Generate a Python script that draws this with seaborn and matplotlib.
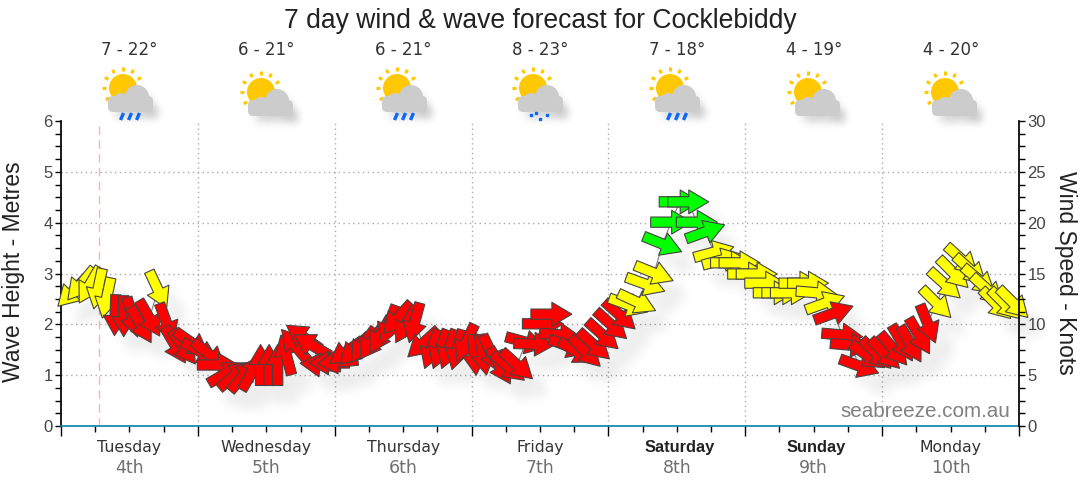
import numpy as np
import pandas as pd
import matplotlib
matplotlib.use("Agg")
import matplotlib.pyplot as plt
import seaborn as sns
from matplotlib.markers import MarkerStyle
from matplotlib.patches import Circle, FancyBboxPatch
from matplotlib.path import Path
from matplotlib.ticker import MultipleLocator
from matplotlib.transforms import Affine2D

# hours since midnight Tuesday
hours = [2.0, 3.5, 5.0, 6.5, 8.0, 9.5, 11.0, 12.5, 14.0, 15.5, 17.0, 18.5, 20.0, 21.5, 23.0, 24.5,
         26.0, 27.5, 29.0, 30.5, 32.0, 33.5, 35.0, 36.5, 38.0, 39.5, 41.0, 42.5, 44.0, 45.5, 47.0, 48.5,
         50.0, 51.5, 53.0, 54.5, 56.0, 57.5, 59.0, 60.5, 62.0, 63.5, 65.0, 66.5, 68.0, 69.5, 71.0, 72.5,
         74.0, 75.5, 77.0, 78.5, 80.0, 81.5, 83.0, 84.5, 86.0, 87.5, 89.0, 90.5, 92.0, 93.5, 95.0, 96.5,
         98.0, 99.5, 101.0, 102.5, 104.0, 105.5, 107.0, 108.5, 110.0, 111.5, 113.0, 114.5, 116.0, 117.5,
         119.0, 120.5, 122.0, 123.5, 125.0, 126.5, 128.0, 129.5, 131.0, 132.5, 134.0, 135.5, 137.0, 138.5,
         140.0, 141.5, 143.0, 144.5, 146.0, 147.5, 149.0, 150.5, 152.0, 153.5, 155.0, 156.5, 158.0, 159.5,
         161.0, 162.5, 164.0, 165.5, 167.0]
wave_m = [2.64, 2.79, 2.77, 2.70, 2.52, 2.18, 2.16, 2.14, 1.99, 2.12, 2.68, 2.03, 1.59, 1.55, 1.63, 1.46,
          1.40, 1.20, 1.04, 1.00, 1.00, 1.06, 1.20, 1.20, 1.20, 1.40, 1.59, 1.75, 1.59, 1.20, 1.24, 1.26,
          1.46, 1.50, 1.59, 1.65, 1.79, 1.99, 2.12, 1.99, 2.03, 1.63, 1.51, 1.51, 1.51, 1.50, 1.63, 1.40,
          1.40, 1.42, 1.18, 1.16, 1.20, 1.65, 1.61, 2.01, 2.20, 1.79, 1.57, 1.46, 1.46, 1.59, 1.79, 1.99,
          2.18, 2.38, 2.44, 2.79, 3.01, 3.58, 4.01, 4.41, 4.41, 4.01, 3.82, 3.42, 3.27, 3.21, 3.21, 2.99,
          2.99, 2.81, 2.62, 2.62, 2.62, 2.81, 2.81, 2.62, 2.42, 2.22, 1.79, 1.59, 1.18, 1.38, 1.42, 1.42,
          1.51, 1.63, 1.61, 1.77, 2.01, 2.42, 2.79, 3.01, 3.27, 3.07, 2.87, 2.68, 2.40, 2.40, 2.42]
# direction the arrow points, degrees anticlockwise from east
heading = [225, 230, 240, 258, 258, 268, 270, 285, 300, 300, 295, 290, 300, 305, 325, 332,
           320, 0, 30, 40, 50, 60, 90, 90, 90, 105, 130, 145, 150, 175, 180, 185,
           215, 225, 235, 235, 240, 250, 228, 240, 255, 222, 250, 250, 250, 255, 245, 275,
           280, 295, 300, 320, 318, 345, 358, 0, 0, 355, 340, 330, 315, 318, 318, 318,
           318, 340, 335, 340, 338, 338, 0, 0, 0, 0, 20, 15, 15, 0, 0, 0,
           0, 0, 0, 0, 0, 0, 0, 355, 20, 20, 355, 355, 340, 325, 315, 315,
           310, 300, 300, 300, 292, 315, 318, 315, 318, 318, 320, 318, 315, 315, 315]
band = ["y"] * 5 + ["r"] * 5 + ["y"] + ["r"] * 54 + ["y"] * 4 + ["g"] * 6 + ["y"] * 14 + ["r"] * 12 + ["y"] * 10

day_names = ["Tuesday", "Wednesday", "Thursday", "Friday", "Saturday", "Sunday", "Monday"]
day_dates = ["4th", "5th", "6th", "7th", "8th", "9th", "10th"]
temps = ["7 - 22°", "6 - 21°", "6 - 21°", "8 - 23°", "7 - 18°", "4 - 19°", "4 - 20°"]
icons = ["rain", "cloud", "rain", "shower", "rain", "cloud", "cloud"]
now_hour = 6.66

df = pd.DataFrame({"hours": hours, "wave": wave_m, "heading": heading, "band": band})

sns.set_theme(style="white")
plt.rcParams["font.family"] = ["Liberation Sans", "DejaVu Sans"]

W, H = 1080, 490
fig = plt.figure(figsize=(W / 100, H / 100), dpi=100, facecolor="white")
ax = fig.add_axes([61 / W, 1 - 426 / H, 958 / W, 305 / H], facecolor="none")


def blur(a, r):
    k = np.ones(2 * r + 1) / (2 * r + 1)
    for _ in range(2):
        a = np.apply_along_axis(np.convolve, 0, a, k, mode="same")
        a = np.apply_along_axis(np.convolve, 1, a, k, mode="same")
    return a


def shadow_filter(dx, dy, r, strength):
    def f(im, dpi):
        pad = 3 * r + max(dx, dy) + 2
        alpha = blur(np.pad(im[:, :, 3], pad), r)
        alpha = np.roll(np.roll(alpha, dx, axis=1), dy, axis=0)
        out = np.zeros(alpha.shape + (4,))
        out[:, :, 3] = np.clip(alpha * strength, 0, 1)
        return out, -pad, -pad
    return f


# arrow outline, tail to the left, about 41px long
arrow = Path([(-1, -0.25), (0.024, -0.25), (0.024, -0.58), (1, 0), (0.024, 0.58), (0.024, 0.25),
              (-1, 0.25), (-1, -0.25)], closed=True)
arrow_markers = {a: MarkerStyle(arrow, transform=Affine2D().rotate_deg(a)) for a in set(heading)}
colours = {"r": "#ff0000", "y": "#ffff00", "g": "#00ff00"}
size = 870

sns.scatterplot(data=df, x="hours", y="wave", style="heading", markers=arrow_markers, s=size, color="black",
                linewidth=0, legend=False, clip_on=False, zorder=3, ax=ax)
ax.collections[-1].set_agg_filter(shadow_filter(8, 9, 4, 0.27))

sns.lineplot(data=df, x="hours", y="wave", color="#808080", linewidth=0.8, legend=False, zorder=4, ax=ax)

sns.scatterplot(data=df, x="hours", y="wave", hue="band", palette=colours, style="heading", markers=arrow_markers,
                s=size, edgecolor="#444444", linewidth=0.8, legend=False, clip_on=False, zorder=5, ax=ax)

ax.set_xlim(0, 168)
ax.set_ylim(0, 6)
ax.set_xlabel("")
ax.set_ylabel("")
ax.xaxis.set_major_locator(MultipleLocator(24))
ax.xaxis.set_minor_locator(MultipleLocator(6))
ax.yaxis.set_major_locator(MultipleLocator(1))
ax.yaxis.set_minor_locator(MultipleLocator(0.25))
ax.tick_params(axis="x", which="major", length=7, width=1, color="black", labelbottom=False, bottom=True)
ax.tick_params(axis="x", which="minor", length=4, width=1, color="black", bottom=True)
ax.tick_params(axis="y", which="both", length=4, width=1, color="black", left=True)
ax.tick_params(axis="y", which="major", labelsize=12, labelcolor="#444444", pad=2)
for h in range(24, 168, 24):
    ax.axvline(h, color="#aaaaaa", linewidth=1, linestyle=(0, (1, 2.5)), zorder=1)
for m in range(1, 6):
    ax.axhline(m, color="#aaaaaa", linewidth=1, linestyle=(0, (1, 2.5)), zorder=1)
ax.axvline(now_hour, color="#ffb0b0", linewidth=1, linestyle=(0, (6, 4)), zorder=1)
ax.spines["top"].set_visible(False)
ax.spines["right"].set_visible(False)
ax.spines["left"].set_color("black")
ax.spines["bottom"].set_color("#0a80a8")
ax.spines["bottom"].set_linewidth(1.2)

ax2 = ax.twinx()
ax2.set_ylim(0, 30)
ax2.yaxis.set_major_locator(MultipleLocator(5))
ax2.yaxis.set_minor_locator(MultipleLocator(1.25))
ax2.tick_params(axis="y", which="both", length=4, width=1, color="black", right=True)
ax2.tick_params(axis="y", which="major", labelsize=12, labelcolor="#444444", pad=2)
for side in ("top", "left", "bottom"):
    ax2.spines[side].set_visible(False)
ax2.spines["right"].set_color("black")
ax2.grid(False)

trans = ax.get_xaxis_transform()
for i, (name, date) in enumerate(zip(day_names, day_dates)):
    if name in ("Saturday", "Sunday"):
        ax.text(12 + 24 * i + 0.5, -21 / 305, name, transform=trans, ha="center", va="center", fontsize=11.8,
                color="#222222", fontweight="bold", family="Liberation Sans")
    else:
        ax.text(12 + 24 * i, -21 / 305, name, transform=trans, ha="center", va="center", fontsize=11.3,
                color="#333333", family="DejaVu Sans")
    ax.text(12 + 24 * i, -42 / 305, date, transform=trans, ha="center", va="center", fontsize=12.5,
            color="#707070", family="DejaVu Sans")

# page furniture drawn in pixel coordinates
pg = fig.add_axes([0, 0, 1, 1], facecolor="none", zorder=10)
pg.set_xlim(0, W)
pg.set_ylim(H, 0)
pg.axis("off")
pg.text(540, 21, "7 day wind & wave forecast for Cocklebiddy", ha="center", va="center", fontsize=19.1, color="#222222")
pg.text(14, 272, "Wave Height - Metres", rotation=90, ha="center", va="center", fontsize=16.5, color="#222222")
pg.text(1066, 273, "Wind Speed - Knots", rotation=270, ha="center", va="center", fontsize=16.5, color="#222222")
pg.text(1010, 411, "seabreeze.com.au", ha="right", va="center", fontsize=14.9, color="#808080")


def draw_icon(cx, kind):
    dy = 0 if kind == "cloud" else -4
    sx, sy = cx - (8 if kind == "cloud" else 6), 92 + dy
    for a in (30, 60, 90, 120, 150, 180, 215):
        t = np.radians(a)
        pg.plot([sx + 17 * np.cos(t), sx + 21 * np.cos(t)],
                [sy - 17 * np.sin(t), sy - 21 * np.sin(t)], color="#ffc800", lw=2.2, solid_capstyle="butt")
    pg.add_patch(Circle((sx, sy), 14, color="#ffc800", lw=0))
    ox = cx - 26
    oy = 90 + dy
    shapes = [lambda: Circle((ox + 18, oy + 15), 8), lambda: Circle((ox + 34, oy + 11), 12),
              lambda: Circle((ox + 44, oy + 19), 6),
              lambda: FancyBboxPatch((ox + 9, oy + 14), 37, 8, boxstyle="round,pad=4,rounding_size=5")]
    for make in shapes:
        q = make()
        q.set(color="black", lw=0, zorder=1)
        q.set_agg_filter(shadow_filter(6, 8, 4, 0.09))
        pg.add_patch(q)
    for make in shapes:
        p = make()
        p.set(color="#cccccc", lw=0, zorder=3)
        pg.add_patch(p)
    if kind == "rain":
        for d in (-7, 1, 9):
            pg.plot([cx + d - 1.5, cx + d + 1.5], [120, 113], color="#0a66ff", lw=2.4, solid_capstyle="butt", zorder=3)
    if kind == "shower":
        for d, y in ((-8, 115), (1, 119), (8, 115), (-3, 113)):
            pg.plot([cx + d], [y], marker="s", ms=1.8, color="#0a66ff", zorder=3)


icon_x = [129, 269, 403, 539, 676, 816, 953]
temp_x = [129, 266, 403, 540, 677, 814, 951]
for x, kind in zip(icon_x, icons):
    draw_icon(x, kind)
for x, temp in zip(temp_x, temps):
    pg.text(x, 50, temp, ha="center", va="center", fontsize=12, color="#333333", family="DejaVu Sans")

fig.savefig("out.png", dpi=100)
